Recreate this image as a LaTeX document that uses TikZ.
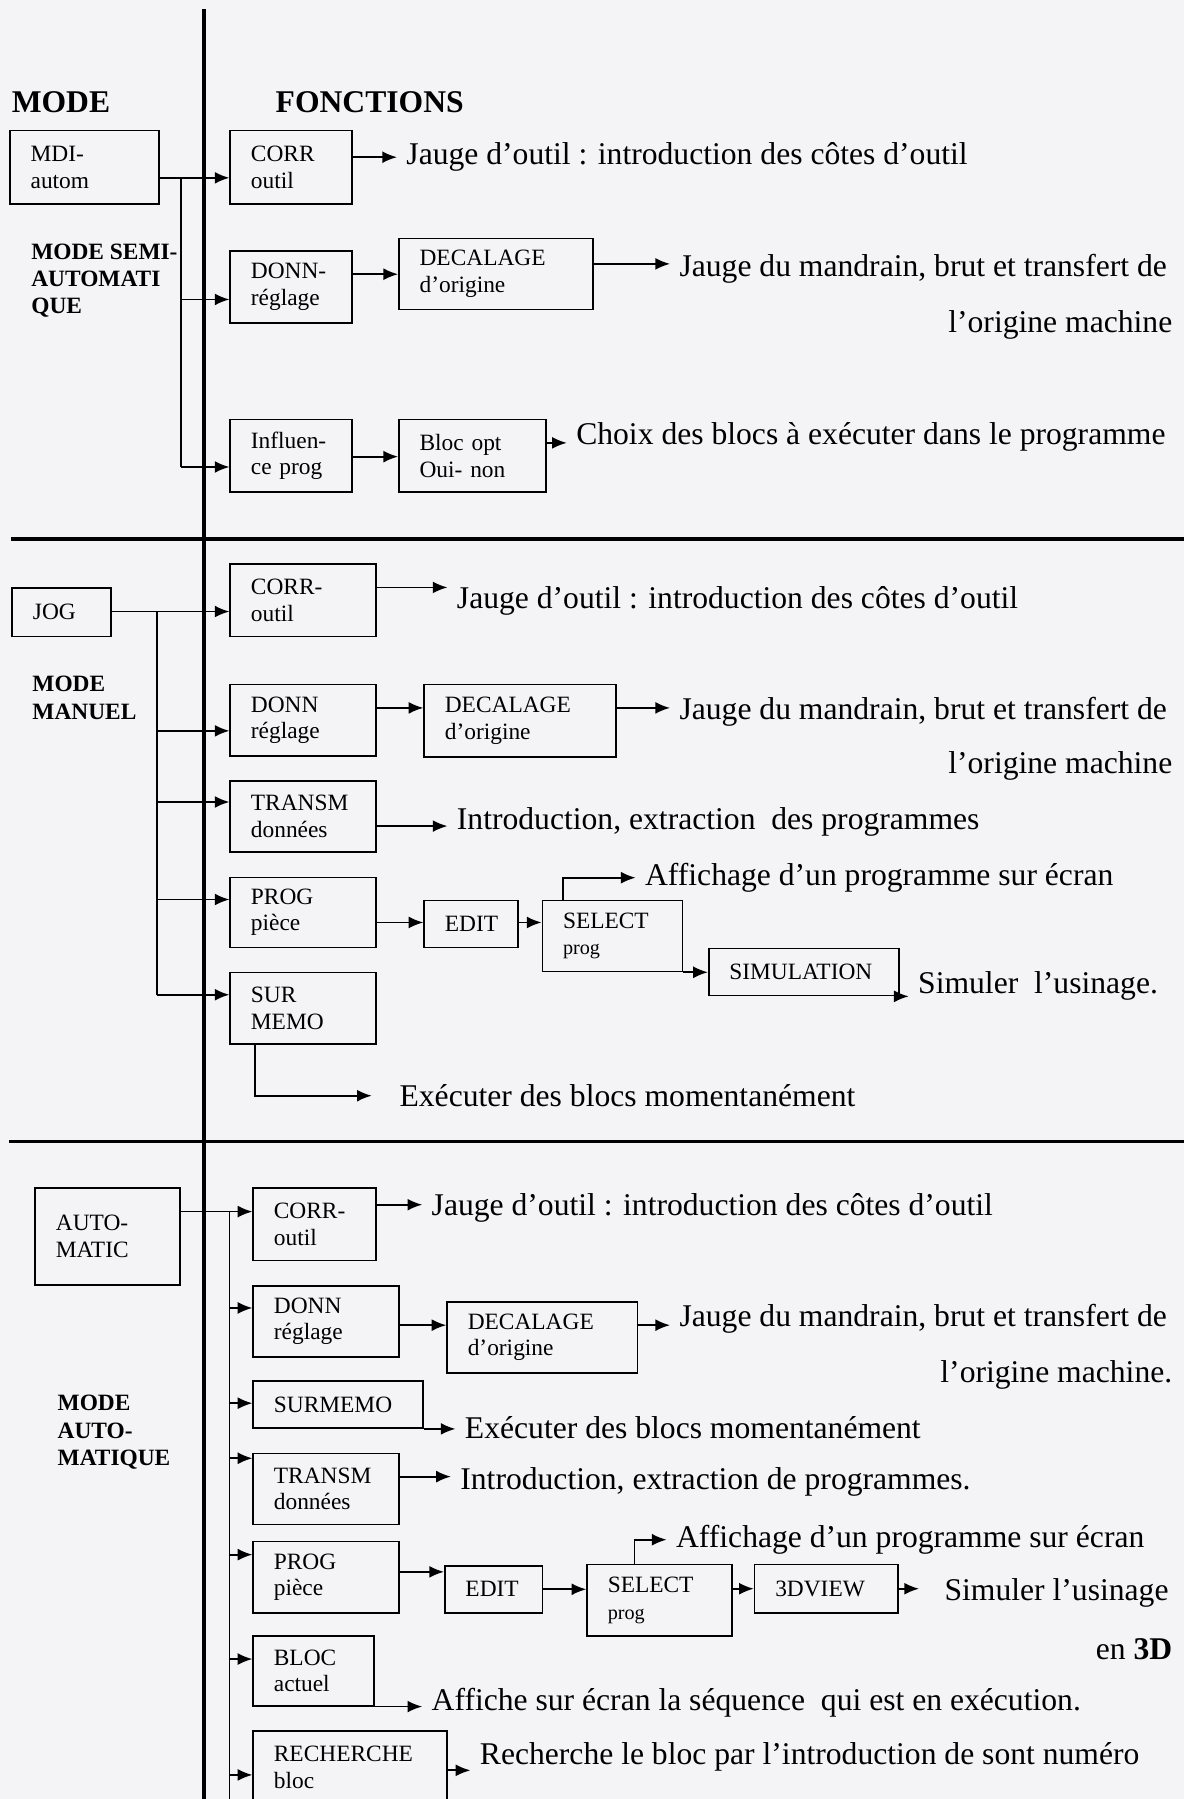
\documentclass[tikz,border=0pt]{standalone}
\usepackage{fontspec}
\setmainfont{Liberation Serif}
\usetikzlibrary{arrows.meta}

\definecolor{paper}{RGB}{244,244,246}
\newcommand\boxfont{\fontsize{14.5}{16.5}\selectfont}
\newcommand\txtfont{\fontsize{19.6}{23}\selectfont}
\newcommand\headfont{\fontsize{19.6}{23}\selectfont\bfseries}
\newcommand\modefont{\fontsize{14.5}{17}\selectfont\bfseries}
\newcommand\smallprog{\fontsize{12.5}{14}\selectfont}

\begin{document}
\begin{tikzpicture}
[x=0.025cm,y=-0.025cm,%
  fct/.style={draw,line width=1pt,anchor=north west,align=left,inner xsep=0.45cm,inner ysep=0pt,font=\boxfont},%
  cn/.style={line width=1.1pt,-{Latex[length=0.32cm,width=0.26cm]}},%
  ln/.style={line width=1.1pt},%
  sep/.style={line width=2.2pt},%
  txt/.style={anchor=west,inner xsep=0.2cm,inner ysep=0pt,font=\txtfont},%
  txtr/.style={txt,anchor=east},%
  head/.style={anchor=west,inner sep=0pt,font=\headfont},%
  mlabel/.style={anchor=north west,align=left,inner sep=0pt,font=\modefont}]
\useasboundingbox (0,0) rectangle (1032,1568);
\fill[paper] (0,0) rectangle (1032,1568);

% separators
\draw[sep] (178,8) -- (178,1568);
\draw[sep] (10,470) -- (1032,470);
\draw[sep] (8,995) -- (1032,995);

\node[head] (hmode) at (10,89) {MODE};
\node[head] (hfct) at (240,89) {FONCTIONS};

% semi-automatic mode
\node[mlabel] (lsemi) at (27,212) {MODE SEMI-\\AUTOMATI\\QUE};
\node[fct,text width=2.35cm,minimum height=1.6cm] (mdi) at (8,113) {MDI-\\autom};
\node[fct,text width=1.75cm,minimum height=1.6cm] (corrA) at (200,113) {CORR\\outil};
\node[fct,text width=1.75cm,minimum height=1.575cm] (donnA) at (200,218) {DONN-\\réglage};
\node[fct,text width=3.325cm,minimum height=1.55cm] (decA) at (347,207) {DECALAGE\\d'origine};
\node[fct,text width=1.75cm,minimum height=1.575cm] (inflA) at (200,365) {Influen-\\ce prog};
\node[fct,text width=2.3cm,minimum height=1.575cm] (blocA) at (347,365) {Bloc opt\\Oui- non};

\node[txt] (tA1) at (346,137) {Jauge d'outil : introduction des côtes d'outil};
\node[txt] (tA2) at (584,234) {Jauge du mandrain, brut et transfert de};
\node[txtr] (tA3) at (1030,283) {l'origine machine};
\node[txt] (tA4) at (494,381) {Choix des blocs à exécuter dans le programme};

\coordinate (busA) at (158,155);
\coordinate (busAend) at (158,407);
\draw[cn] (mdi.east |- busA) -- (corrA.west |- busA);
\draw[ln] (busA) -- (busAend);
\draw[cn] (busA |- 0,261) -- (donnA.west |- 0,261);
\draw[cn] (busAend) -- (inflA.west |- busAend);
\draw[cn] (corrA.east |- tA1) -- (tA1.west);
\draw[cn] (donnA.east |- 0,239) -- (decA.west |- 0,239);
\draw[cn] (decA.east |- 0,230) -- (tA2.west |- 0,230);
\draw[cn] (inflA.east |- 0,398) -- (blocA.west |- 0,398);
\draw[cn] (blocA.east |- 0,386) -- (tA4.west |- 0,386);

% manual mode
\node[mlabel] (lman) at (28,589) {MODE\\MANUEL};
\node[fct,text width=1.25cm,minimum height=1.05cm] (jog) at (10,512) {JOG};
\node[fct,text width=2.275cm,minimum height=1.575cm] (corrB) at (200,491) {CORR-\\outil};
\node[fct,text width=2.275cm,minimum height=1.55cm] (donnB) at (200,596) {DONN\\réglage};
\node[fct,text width=3.275cm,minimum height=1.575cm] (decB) at (369,596) {DECALAGE\\d'origine};
\node[fct,text width=2.275cm,minimum height=1.55cm] (transB) at (200,680) {TRANSM\\données};
\node[fct,text width=2.275cm,minimum height=1.525cm] (progB) at (200,764) {PROG\\pièce};
\node[fct,text width=1.15cm,minimum height=1.025cm] (editB) at (369,784) {EDIT};
\node[fct,text width=2.15cm,minimum height=1.55cm] (selB) at (472,784) {SELECT\\\smallprog prog};
\node[fct,text width=3.25cm,minimum height=1.025cm] (simB) at (617,826) {SIMULATION};
\node[fct,text width=2.275cm,minimum height=1.55cm] (surB) at (200,847) {SUR\\MEMO};

\node[txt] (tB1) at (390,524) {Jauge d'outil : introduction des côtes d'outil};
\node[txt] (tB2) at (584,620) {Jauge du mandrain, brut et transfert de};
\node[txtr] (tB3) at (1030,668) {l'origine machine};
\node[txt] (tB4) at (390,716) {Introduction, extraction\ \ des programmes};
\node[txt] (tB5) at (554,765) {Affichage d'un programme sur écran};
\node[txt] (tB6) at (792,859) {Simuler\ \ l'usinage.};
\node[txt] (tB7) at (340,955) {Exécuter des blocs momentanément};

\coordinate (busB) at (137,533);
\coordinate (busBend) at (137,867);
\draw[cn] (jog.east |- busB) -- (corrB.west |- busB);
\draw[ln] (busB) -- (busBend);
\draw[cn] (busB |- 0,637) -- (donnB.west |- 0,637);
\draw[cn] (busB |- 0,699) -- (transB.west |- 0,699);
\draw[cn] (busB |- 0,784) -- (progB.west |- 0,784);
\draw[cn] (busBend) -- (surB.west |- busBend);
\draw[cn] (corrB.east |- 0,512) -- (tB1.west |- 0,512);
\draw[cn] (donnB.east |- 0,617) -- (decB.west |- 0,617);
\draw[cn] (decB.east |- 0,617) -- (tB2.west |- 0,617);
\draw[cn] (transB.east |- 0,720) -- (tB4.west |- 0,720);
\draw[cn] (progB.east |- 0,804) -- (editB.west |- 0,804);
\draw[cn] (editB.east |- 0,804) -- (selB.west |- 0,804);
\draw[cn] ([xshift=0.475cm]selB.north west) |- (tB5.west);
\draw[cn] (selB.south east) -- (simB.west |- selB.south east);
\draw[cn] (simB.south east) -- (tB6.west |- simB.south east);
\draw[cn] ([xshift=0.55cm]surB.south west) |- ([xshift=-0.4cm]tB7.west);

% automatic mode
\node[mlabel] (lauto) at (50,1216) {MODE\\AUTO-\\MATIQUE};
\node[fct,text width=2.25cm,minimum height=2.1cm] (auto) at (30,1035) {AUTO-\\MATIC};
\node[fct,text width=1.775cm,minimum height=1.575cm] (corrC) at (220,1035) {CORR-\\outil};
\node[fct,text width=2.275cm,minimum height=1.55cm] (donnC) at (220,1120) {DONN\\réglage};
\node[fct,text width=3.25cm,minimum height=1.55cm] (decC) at (389,1134) {DECALAGE\\d'origine};
\node[fct,text width=2.8cm,minimum height=1.025cm] (surC) at (220,1203) {SURMEMO};
\node[fct,text width=2.275cm,minimum height=1.55cm] (transC) at (220,1266) {TRANSM\\données};
\node[fct,text width=2.275cm,minimum height=1.55cm] (progC) at (220,1343) {PROG\\pièce};
\node[fct,text width=1.225cm,minimum height=1.025cm] (editC) at (387,1364) {EDIT};
\node[fct,text width=2.25cm,minimum height=1.55cm] (selC) at (511,1363) {SELECT\\\smallprog prog};
\node[fct,text width=2.225cm,minimum height=1.05cm] (viewC) at (657,1363) {3DVIEW};
\node[fct,text width=1.725cm,minimum height=1.525cm] (blocC) at (220,1425) {BLOC\\actuel};
\node[fct,text width=3.325cm,inner ysep=0.33cm] (rechC) at (220,1508) {RECHERCHE\\bloc};

\node[txt] (tC1) at (368,1053) {Jauge d'outil : introduction des côtes d'outil};
\node[txt] (tC2) at (584,1149) {Jauge du mandrain, brut et transfert de};
\node[txtr] (tC3) at (1030,1198) {l'origine machine.};
\node[txt] (tC4) at (397,1244) {Exécuter des blocs momentanément};
\node[txt] (tC5) at (393,1292) {Introduction, extraction de programmes.};
\node[txt] (tC6) at (581,1342) {Affichage d'un programme sur écran};
\node[txt] (tC7) at (815,1388) {Simuler l'usinage};
\node[txtr] (tC8) at (1030,1437) {en \textbf{3D}};
\node[txt] (tC9) at (368,1484) {Affiche sur écran la séquence\ \ qui est en exécution.};
\node[txt] (tC10) at (410,1531) {Recherche le bloc par l'introduction de sont numéro};

\coordinate (busC) at (200,1056);
\coordinate (busCend) at (200,1568);
\draw[cn] (auto.east |- busC) -- (corrC.west |- busC);
\draw[ln] (busC) -- (busCend);
\draw[cn] (busC |- 0,1140) -- (donnC.west |- 0,1140);
\draw[cn] (busC |- 0,1223) -- (surC.west |- 0,1223);
\draw[cn] (busC |- 0,1271) -- (transC.west |- 0,1271);
\draw[cn] (busC |- 0,1355) -- (progC.west |- 0,1355);
\draw[cn] (busC |- 0,1446) -- (blocC.west |- 0,1446);
\draw[cn] (busC |- 0,1547) -- (rechC.west |- 0,1547);
\draw[cn] (corrC.east |- 0,1050) -- (tC1.west |- 0,1050);
\draw[cn] (donnC.east |- 0,1155) -- (decC.west |- 0,1155);
\draw[cn] (decC.east |- 0,1155) -- (tC2.west |- 0,1155);
\draw[cn] (surC.south east) -- (tC4.west |- surC.south east);
\draw[cn] (transC.east |- 0,1287) -- (tC5.west |- 0,1287);
\draw[cn] (progC.east |- 0,1370) -- (editC.west |- 0,1370);
\draw[cn] (editC.east) -- (selC.west |- editC.east);
\draw[cn] ([xshift=1.05cm]selC.north west) |- (tC6.west);
\draw[cn] (selC.east |- viewC.west) -- (viewC.west);
\draw[cn] (viewC.east) -- ([xshift=-0.35cm]tC7.west |- viewC.east);
\draw[cn] (blocC.south east) -- (tC9.west |- blocC.south east);
\draw[cn] (rechC.east |- 0,1543) -- (tC10.west |- 0,1543);
\end{tikzpicture}
\end{document}
